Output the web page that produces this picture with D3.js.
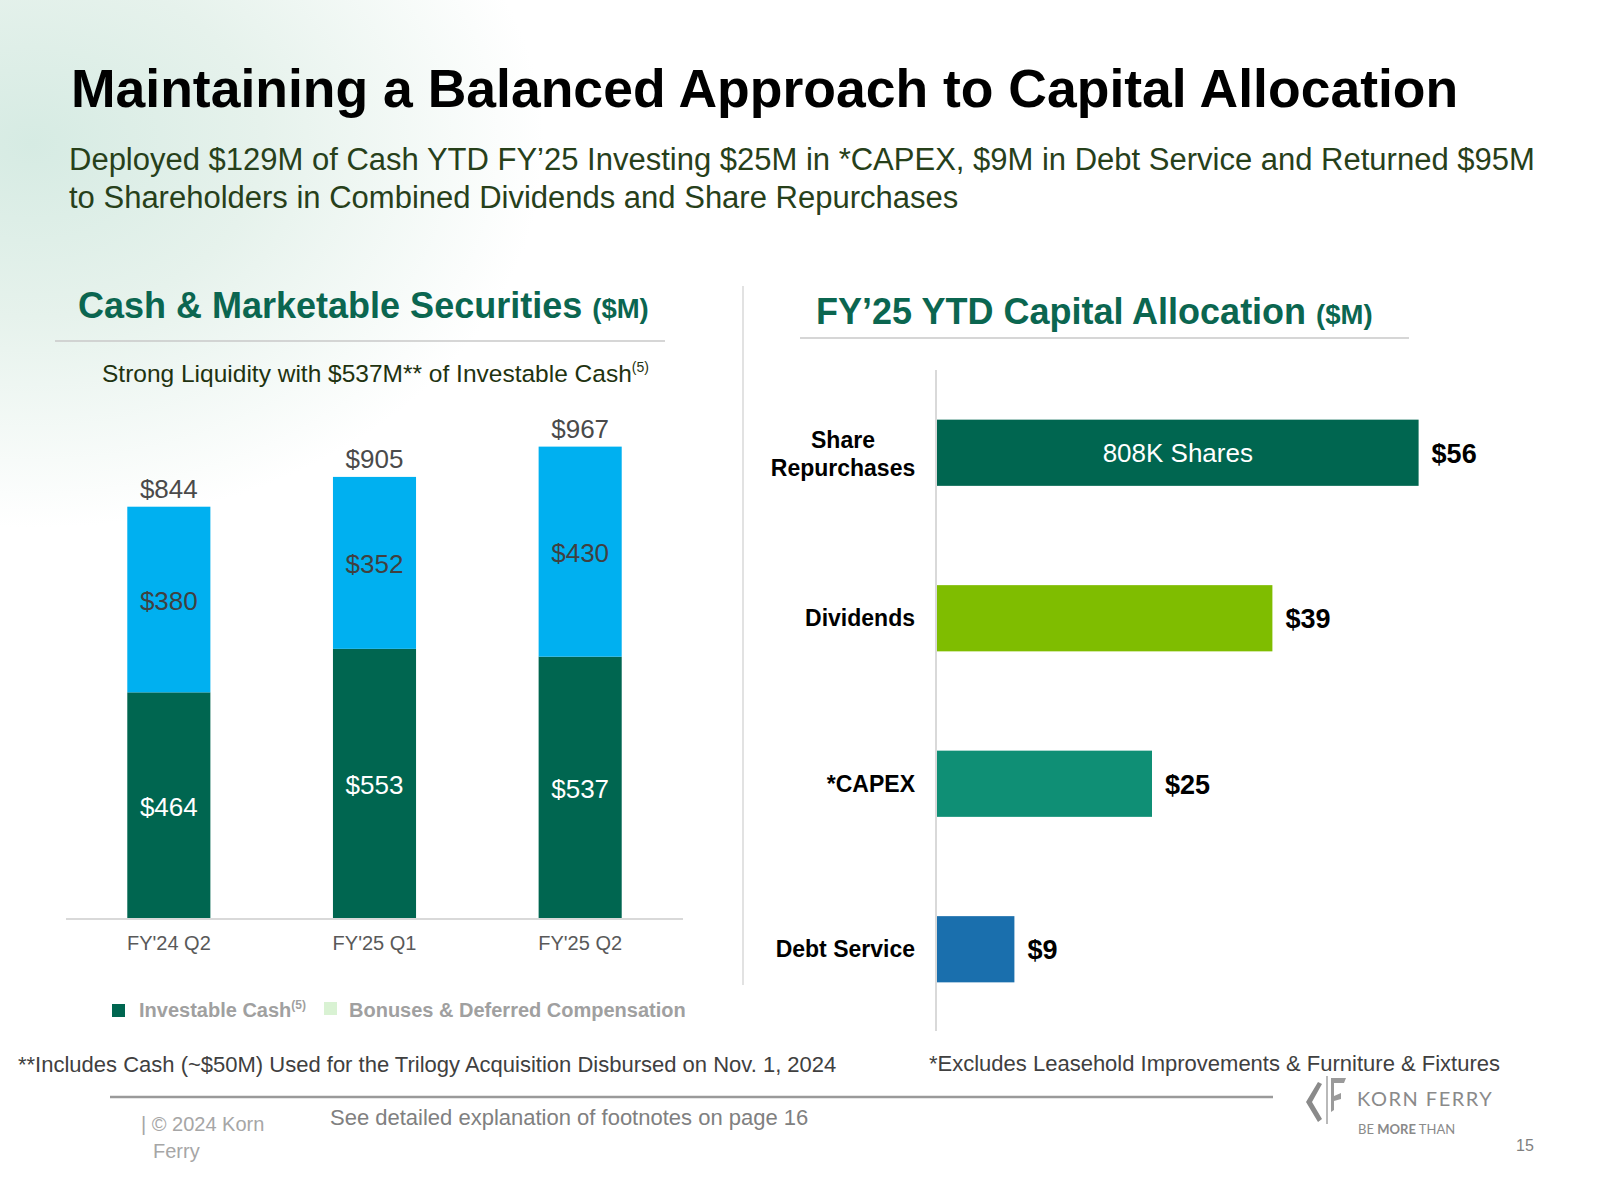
<!DOCTYPE html>
<html>
<head>
<meta charset="utf-8">
<script src="https://cdn.jsdelivr.net/npm/d3@7"></script>
<style>
  html, body { margin: 0; padding: 0; background: #fff; }
  svg { display: block; font-family: "Liberation Sans", Arial, sans-serif; }
</style>
</head>
<body>
<svg id="chart" width="1600" height="1200"></svg>
<script>
// ---------- DATA ----------
const categories = ["FY'24 Q2", "FY'25 Q1", "FY'25 Q2"];
const investableCash = [464, 553, 537];
const bonusesDeferred = [380, 352, 430];
const totals = [844, 905, 967];

const allocCategories = ["Share Repurchases", "Dividends", "*CAPEX", "Debt Service"];
const allocValues = [56, 39, 25, 9];
const allocInnerLabels = ["808K Shares", "", "", ""];

const legendLabels = ["Investable Cash", "Bonuses & Deferred Compensation"];

// ---------- STYLE ----------
const C_DARK = "#006650", C_BLUE = "#00B0F0", C_LEGEND_LIGHT = "#d9f2d3";
const allocColors = ["#006650", "#7FBD00", "#0F8F75", "#1A6FAD"];
const C_HEAD = "#0B6650";

const svg = d3.select("#chart");

// background soft mint glow, top-left
const defs = svg.append("defs");
const rg = defs.append("radialGradient").attr("id", "bg")
  .attr("cx", 0.02).attr("cy", 0.12).attr("r", 0.32)
  .attr("gradientUnits", "objectBoundingBox");
rg.append("stop").attr("offset", "0%").attr("stop-color", "#d6ebe3");
rg.append("stop").attr("offset", "45%").attr("stop-color", "#e6f2ec");
rg.append("stop").attr("offset", "100%").attr("stop-color", "#ffffff");
svg.append("rect").attr("width", 1600).attr("height", 1200).attr("fill", "#fff");
svg.append("rect").attr("width", 1600).attr("height", 1200).attr("fill", "url(#bg)");

// ---------- TITLES ----------
svg.append("text").attr("x", 71).attr("y", 107)
  .attr("font-size", 53.5).attr("font-weight", "bold").attr("fill", "#000")
  .text("Maintaining a Balanced Approach to Capital Allocation");

const sub = svg.append("text").attr("font-size", 31).attr("fill", "#27401a");
sub.append("tspan").attr("x", 69).attr("y", 170)
  .text("Deployed $129M of Cash YTD FY’25 Investing $25M in *CAPEX, $9M in Debt Service and Returned $95M");
sub.append("tspan").attr("x", 69).attr("y", 208)
  .text("to Shareholders in Combined Dividends and Share Repurchases");

// ---------- LEFT CHART ----------
const lh = svg.append("text").attr("x", 78).attr("y", 318).attr("fill", C_HEAD).attr("font-weight", "bold");
lh.append("tspan").attr("font-size", 36).text("Cash & Marketable Securities ");
lh.append("tspan").attr("font-size", 27.5).text("($M)");
svg.append("line").attr("x1", 55).attr("x2", 665).attr("y1", 341).attr("y2", 341)
  .attr("stroke", "#c9c9c9").attr("stroke-width", 1.5);

const ls = svg.append("text").attr("x", 102).attr("y", 382).attr("fill", "#1f3310").attr("font-size", 24.5);
ls.append("tspan").text("Strong Liquidity with $537M** of Investable Cash");
ls.append("tspan").attr("font-size", 14).attr("dy", -10).text("(5)");

const x = d3.scaleBand().domain(categories).range([66, 683]).paddingInner(0.596).paddingOuter(0.298);
const y = d3.scaleLinear().domain([0, 1000]).range([919, 430.5]);

const rows = categories.map((c, i) => ({ cat: c, inv: investableCash[i], bon: bonusesDeferred[i], total: totals[i] }));
const stack = d3.stack().keys(["inv", "bon"])(rows);
const segColors = { inv: C_DARK, bon: C_BLUE };
const segText = { inv: "#ffffff", bon: "#404040" };

const gL = svg.append("g");
stack.forEach(layer => {
  gL.selectAll(null).data(layer).enter().append("rect")
    .attr("x", d => x(d.data.cat)).attr("width", x.bandwidth())
    .attr("y", d => y(d[1])).attr("height", d => y(d[0]) - y(d[1]))
    .attr("fill", segColors[layer.key]);
  gL.selectAll(null).data(layer).enter().append("text")
    .attr("x", d => x(d.data.cat) + x.bandwidth() / 2)
    .attr("y", d => (y(d[0]) + y(d[1])) / 2 + 10)
    .attr("text-anchor", "middle").attr("font-size", 26)
    .attr("fill", segText[layer.key])
    .text(d => "$" + d.data[layer.key]);
});
gL.selectAll(null).data(rows).enter().append("text")
  .attr("x", d => x(d.cat) + x.bandwidth() / 2)
  .attr("y", d => y(d.total) - 9)
  .attr("text-anchor", "middle").attr("font-size", 26).attr("fill", "#4a4a4a")
  .text(d => "$" + d.total);

// x axis
const xAxis = svg.append("g").attr("transform", "translate(0,919)")
  .call(d3.axisBottom(x).tickSize(0).tickPadding(0));
xAxis.select(".domain").attr("stroke", "#d9d9d9").attr("stroke-width", 2)
  .attr("d", "M66,0H683");
xAxis.selectAll(".tick text").attr("font-size", 20).attr("fill", "#595959")
  .attr("font-family", "Liberation Sans, Arial, sans-serif").attr("dy", 0).attr("y", 31);

// legend
const lg = svg.append("g");
lg.append("rect").attr("x", 112).attr("y", 1004).attr("width", 13).attr("height", 13).attr("fill", C_DARK);
const lt1 = lg.append("text").attr("x", 139).attr("y", 1017).attr("font-size", 20)
  .attr("font-weight", "bold").attr("fill", "#a0a0a0");
lt1.append("tspan").text(legendLabels[0]);
lt1.append("tspan").attr("font-size", 12).attr("dy", -8).text("(5)");
lg.append("rect").attr("x", 324).attr("y", 1002).attr("width", 13).attr("height", 13).attr("fill", C_LEGEND_LIGHT);
lg.append("text").attr("x", 349).attr("y", 1017).attr("font-size", 20)
  .attr("font-weight", "bold").attr("fill", "#a0a0a0").text(legendLabels[1]);

// divider
svg.append("line").attr("x1", 743).attr("x2", 743).attr("y1", 286).attr("y2", 985)
  .attr("stroke", "#d9d9d9").attr("stroke-width", 1.5);

// ---------- RIGHT CHART ----------
const rh = svg.append("text").attr("x", 816).attr("y", 324).attr("fill", C_HEAD).attr("font-weight", "bold");
rh.append("tspan").attr("font-size", 36).text("FY’25 YTD Capital Allocation ");
rh.append("tspan").attr("font-size", 27.5).text("($M)");
svg.append("line").attr("x1", 800).attr("x2", 1409).attr("y1", 338).attr("y2", 338)
  .attr("stroke", "#c9c9c9").attr("stroke-width", 1.5);

const yb = d3.scaleBand().domain(allocCategories).range([370, 1032]).paddingInner(0.6).paddingOuter(0.3);
const xb = d3.scaleLinear().domain([0, 56]).range([937, 1418.6]);
const alloc = allocCategories.map((c, i) => ({ cat: c, v: allocValues[i], inner: allocInnerLabels[i], color: allocColors[i] }));

const gR = svg.append("g");
gR.selectAll(null).data(alloc).enter().append("rect")
  .attr("x", xb(0)).attr("y", d => yb(d.cat))
  .attr("width", d => xb(d.v) - xb(0)).attr("height", yb.bandwidth())
  .attr("fill", d => d.color);
gR.selectAll(null).data(alloc).enter().append("text")
  .attr("x", d => xb(d.v) + 13).attr("y", d => yb(d.cat) + yb.bandwidth() / 2 + 10)
  .attr("font-size", 27).attr("font-weight", "bold").attr("fill", "#000")
  .text(d => "$" + d.v);
gR.selectAll(null).data(alloc.filter(d => d.inner)).enter().append("text")
  .attr("x", d => (xb(0) + xb(d.v)) / 2).attr("y", d => yb(d.cat) + yb.bandwidth() / 2 + 9)
  .attr("text-anchor", "middle").attr("font-size", 26).attr("fill", "#fff")
  .text(d => d.inner);

// y axis with category labels
const yAxis = svg.append("g").attr("transform", "translate(936,0)")
  .call(d3.axisLeft(yb).tickSize(0).tickPadding(0).tickFormat(() => ""));
yAxis.select(".domain").attr("stroke", "#d9d9d9").attr("stroke-width", 2).attr("d", "M0,370V1031");
yAxis.selectAll(".tick").each(function (c) {
  const t = d3.select(this).select("text").text(null)
    .attr("font-size", 23).attr("font-weight", "bold").attr("fill", "#000")
    .attr("font-family", "Liberation Sans, Arial, sans-serif").attr("dy", 0);
  const words = c === "Share Repurchases" ? ["Share", "Repurchases"] : [c];
  if (words.length === 2) {
    t.attr("text-anchor", "middle");
    t.append("tspan").attr("x", -93).attr("y", -5).text(words[0]);
    t.append("tspan").attr("x", -93).attr("y", 23).text(words[1]);
  } else {
    t.attr("text-anchor", "end").attr("x", -21).attr("y", 8).text(words[0]);
  }
});

// ---------- FOOTNOTES / FOOTER ----------
svg.append("text").attr("x", 18).attr("y", 1072).attr("font-size", 22).attr("fill", "#404040")
  .text("**Includes Cash (~$50M) Used for the Trilogy Acquisition Disbursed on Nov. 1, 2024");
svg.append("text").attr("x", 929).attr("y", 1071).attr("font-size", 22).attr("fill", "#404040")
  .text("*Excludes Leasehold Improvements & Furniture & Fixtures");

svg.append("line").attr("x1", 110).attr("x2", 1273).attr("y1", 1097).attr("y2", 1097)
  .attr("stroke", "#9a9a9a").attr("stroke-width", 2.5);

const cp = svg.append("text").attr("font-size", 20).attr("fill", "#a6a6a6");
cp.append("tspan").attr("x", 141).attr("y", 1131).text("| © 2024 Korn");
cp.append("tspan").attr("x", 153).attr("y", 1158).text("Ferry");
svg.append("text").attr("x", 330).attr("y", 1125).attr("font-size", 22).attr("fill", "#808080")
  .text("See detailed explanation of footnotes on page 16");

// logo
const logo = svg.append("g");
logo.append("path").attr("d", "M1318,1082 L1306,1102 L1318,1122 L1322,1119 L1312,1102 L1322,1084 Z").attr("fill", "#8a8a8a");
logo.append("line").attr("x1", 1327).attr("x2", 1327).attr("y1", 1076).attr("y2", 1124).attr("stroke", "#8a8a8a").attr("stroke-width", 1.2);
logo.append("path").attr("d", "M1331,1078 L1346,1078 L1344,1083 L1334,1083 L1334,1096 L1341,1093 L1341,1099 L1334,1101 L1334,1110 L1331,1112 Z").attr("fill", "#9a9a9a");
logo.append("text").attr("x", 1357).attr("y", 1106).attr("font-size", 20).attr("fill", "#8a8a8a")
  .attr("font-family", "Lato, 'Open Sans', sans-serif").attr("letter-spacing", 1.5).text("KORN FERRY");
const bm = logo.append("text").attr("x", 1358).attr("y", 1134).attr("font-size", 13).attr("fill", "#8a8a8a")
  .attr("font-family", "Lato, 'Open Sans', sans-serif");
bm.append("tspan").text("BE ");
bm.append("tspan").attr("font-weight", "bold").text("MORE");
bm.append("tspan").text(" THAN");
svg.append("text").attr("x", 1516).attr("y", 1151).attr("font-size", 16).attr("fill", "#808080").text("15");
</script>
</body>
</html>
